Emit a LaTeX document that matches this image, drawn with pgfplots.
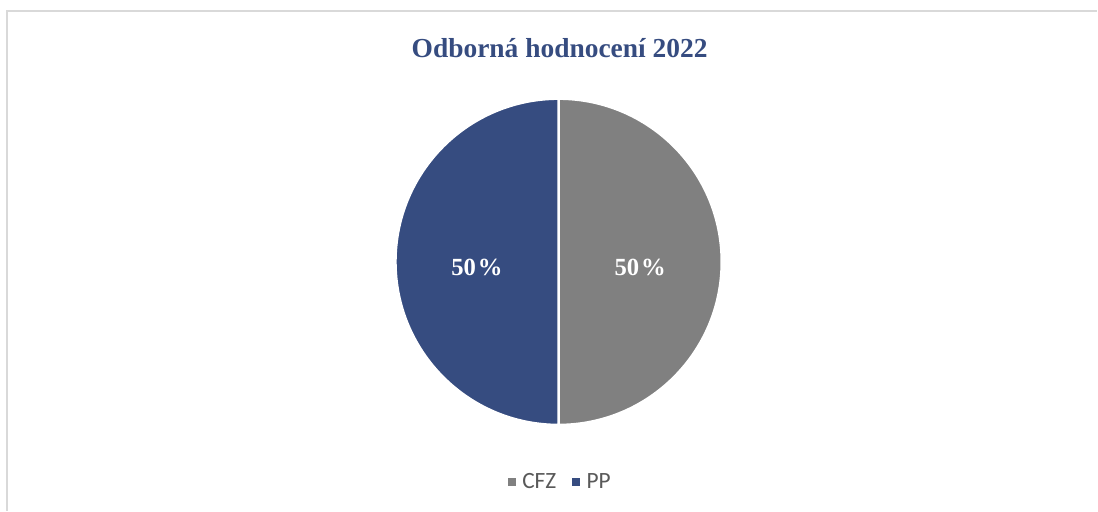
\documentclass[border=0pt]{standalone}
\usepackage{pgfplots}
\pgfplotsset{compat=1.18}
\usepackage{pgfplotstable}
\usetikzlibrary{calc}
\usepackage{fontspec}
\setmainfont{Liberation Serif}
\newfontfamily\legendfont{Carlito}

\definecolor{cfzgray}{RGB}{128,128,128}
\definecolor{ppblue}{RGB}{54,76,128}
\definecolor{framegray}{RGB}{217,217,217}
\definecolor{legendtext}{RGB}{89,89,89}

% podíly
\pgfplotstableread{
name value
CFZ  50
PP   50
}\piedata

\begin{document}
\begin{tikzpicture}
\pgfplotstablegetelem{0}{value}\of\piedata \let\vA\pgfplotsretval
\pgfplotstablegetelem{1}{value}\of\piedata \let\vB\pgfplotsretval
\pgfmathsetmacro\total{\vA+\vB}
\pgfmathsetmacro\fA{\vA/\total}
\pgfmathsetmacro\fB{\vB/\total}
\pgfmathsetmacro\endA{90-360*\fA}
\pgfmathsetmacro\endB{\endA-360*\fB}
\pgfmathsetmacro\midA{(90+\endA)/2}
\pgfmathsetmacro\midB{(\endA+\endB)/2}
\pgfmathtruncatemacro\pA{round(100*\fA)}
\pgfmathtruncatemacro\pB{round(100*\fB)}
\def\R{122.5pt}
\begin{axis}[
    hide axis, scale only axis,
    width=823.5pt, height=383.25pt,
    xmin=0, xmax=1098, ymin=0, ymax=511, y dir=reverse,
    clip=false,
    legend columns=2,
    legend style={at={(axis cs:561,482)}, anchor=center, draw=none,
        font=\legendfont\fontsize{17.5}{20}\selectfont, text=legendtext,
        /tikz/every odd column/.append style={column sep=3pt},
        /tikz/every even column/.append style={column sep=10pt}},
    legend image code/.code={\fill (0pt,-2.9pt) rectangle (5.8pt,2.9pt);},
]
\path (axis cs:0,0) rectangle (axis cs:1098,511);
\draw[framegray, line width=1.2pt] (axis cs:7,511) -- (axis cs:7,11) -- (axis cs:1098,11);
\node[font=\bfseries\fontsize{20.6}{23}\selectfont, text=ppblue] at (axis cs:560,48) {Odborná hodnocení 2022};

\fill[cfzgray, draw=white, line width=2pt] (axis cs:559,262) -- ++(90:\R)
    arc[start angle=90, end angle=\endA, radius=\R] -- cycle;
\fill[ppblue, draw=white, line width=2pt] (axis cs:559,262) -- ++(\endA:\R)
    arc[start angle=\endA, end angle=\endB, radius=\R] -- cycle;
\node[text=white, font=\bfseries\fontsize{18.5}{20}\selectfont] at ($(axis cs:559,268)+(\midA:0.5*\R)$) {\pA\kern1.5pt\%};
\node[text=white, font=\bfseries\fontsize{18.5}{20}\selectfont] at ($(axis cs:559,268)+(\midB:0.5*\R)$) {\pB\kern1.5pt\%};

\addlegendimage{fill=cfzgray, draw=none}
\addlegendentry{CFZ}
\addlegendimage{fill=ppblue, draw=none}
\addlegendentry{PP}
\end{axis}
\end{tikzpicture}
\end{document}
